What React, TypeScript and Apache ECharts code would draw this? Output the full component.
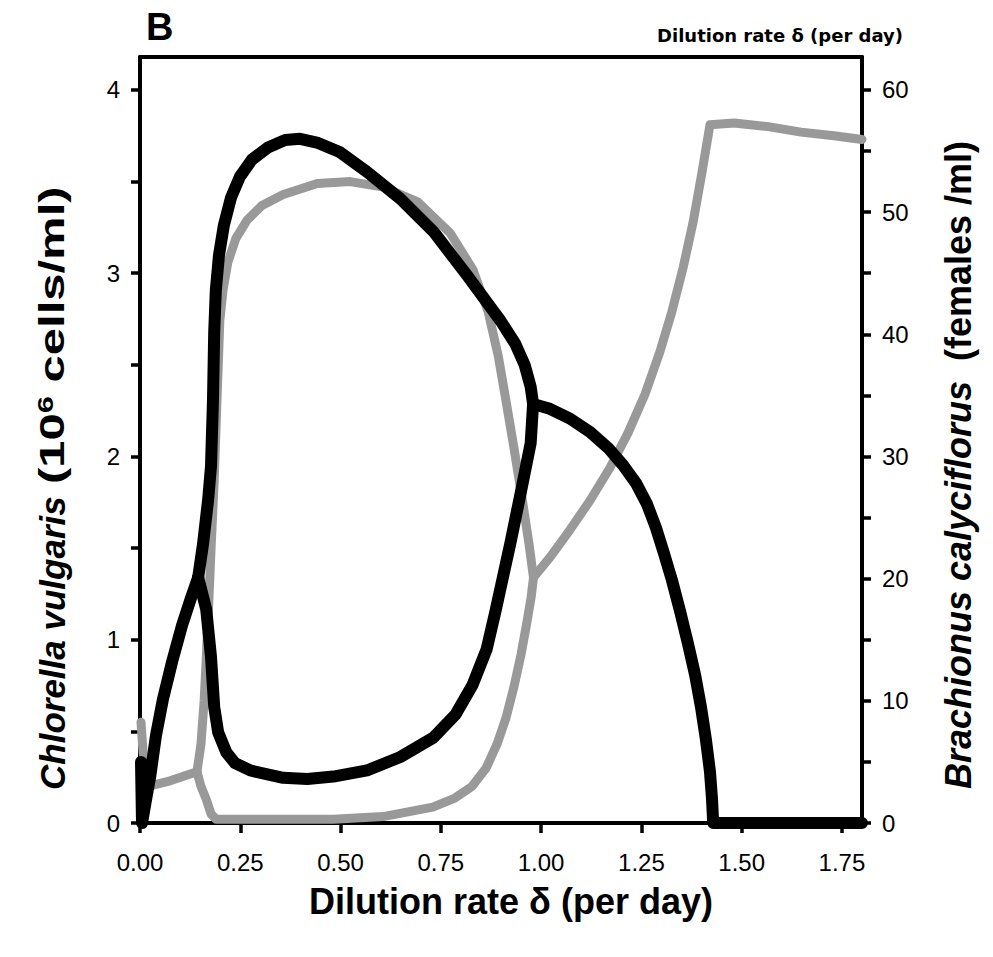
import React, { useEffect, useRef } from "react";
import * as echarts from "echarts";

// ---- tick values ----
const xTicks = [0, 0.25, 0.5, 0.75, 1.0, 1.25, 1.5, 1.75];
const leftTicks = [0, 0.5, 1, 1.5, 2, 2.5, 3, 3.5, 4];
const leftLabels = [0, 1, 2, 3, 4];
const rightTicks = [0, 5, 10, 15, 20, 25, 30, 35, 40, 45, 50, 55, 60];
const rightLabels = [0, 10, 20, 30, 40, 50, 60];

// ---- Chlorella vulgaris (10^6 cells/ml), grey, left axis ----
const chlorellaLow: [number, number][] = [
  [0.0025, 0.55], [0.0075, 0.39], [0.02, 0.2], [0.075, 0.23], [0.142, 0.28],
];
const chlorellaMax: [number, number][] = [
  [0.142, 0.28], [0.152, 0.43], [0.16, 0.67], [0.165, 0.89], [0.17, 1.13], [0.177, 1.49],
  [0.185, 1.87], [0.192, 2.31], [0.199, 2.74], [0.207, 2.91], [0.219, 3.06], [0.239, 3.19],
  [0.267, 3.29], [0.304, 3.37], [0.357, 3.43], [0.442, 3.49], [0.524, 3.5], [0.607, 3.47],
  [0.692, 3.39], [0.773, 3.22], [0.83, 3.02], [0.868, 2.79], [0.893, 2.55], [0.912, 2.31],
  [0.932, 2.05], [0.952, 1.78], [0.97, 1.52], [0.981, 1.34],
];
const chlorellaMin: [number, number][] = [
  [0.142, 0.28], [0.152, 0.2], [0.165, 0.13], [0.177, 0.05], [0.19, 0.02], [0.3, 0.02],
  [0.482, 0.02], [0.606, 0.035], [0.73, 0.087], [0.785, 0.136], [0.828, 0.2], [0.863, 0.3],
  [0.89, 0.43], [0.912, 0.57], [0.932, 0.74], [0.95, 0.92], [0.965, 1.1], [0.975, 1.23],
  [0.981, 1.34],
];
const chlorellaEquilibrium: [number, number][] = [
  [0.981, 1.34], [1.022, 1.45], [1.072, 1.6], [1.122, 1.76], [1.172, 1.94], [1.217, 2.13],
  [1.259, 2.34], [1.296, 2.57], [1.326, 2.79], [1.354, 3.03], [1.379, 3.28], [1.401, 3.55],
  [1.421, 3.81], [1.481, 3.82], [1.566, 3.8], [1.648, 3.77], [1.73, 3.75], [1.8, 3.73],
];

// ---- Brachionus calyciflorus (females/ml), black, right axis ----
const brachionusRise: [number, number][] = [
  [0.0025, 5.0], [0.005, 0], [0.015, 1.9], [0.025, 3.7], [0.04, 7.2], [0.057, 10.1],
  [0.08, 13.2], [0.105, 16.2], [0.127, 18.4], [0.145, 20.1],
];
const brachionusMax: [number, number][] = [
  [0.145, 20.1], [0.157, 22.8], [0.17, 26.5], [0.177, 29.2], [0.182, 34.7], [0.185, 40.2],
  [0.189, 43.6], [0.197, 46.5], [0.209, 48.9], [0.227, 51.2], [0.249, 52.9], [0.279, 54.3],
  [0.319, 55.3], [0.362, 55.9], [0.399, 56.0], [0.441, 55.7], [0.499, 54.9], [0.566, 53.3],
  [0.649, 51.1], [0.732, 48.4], [0.816, 44.8], [0.899, 41.1], [0.936, 39.2], [0.959, 37.5],
  [0.974, 35.7], [0.98, 34.3],
];
const brachionusMin: [number, number][] = [
  [0.98, 34.3], [0.974, 31.1], [0.949, 27.0], [0.924, 23.0], [0.906, 20.3], [0.886, 17.3],
  [0.864, 14.2], [0.829, 11.3], [0.787, 8.9], [0.732, 7.0], [0.649, 5.4], [0.566, 4.3],
  [0.482, 3.8], [0.417, 3.6], [0.357, 3.7], [0.275, 4.3], [0.237, 4.9], [0.215, 5.8],
  [0.195, 7.4], [0.185, 9.5], [0.177, 13.6], [0.165, 17.5], [0.145, 20.1],
];
const brachionusEquilibrium: [number, number][] = [
  [0.98, 34.3], [1.022, 33.9], [1.072, 33.1], [1.122, 32.0], [1.167, 30.7], [1.204, 29.3],
  [1.237, 27.8], [1.264, 26.1], [1.286, 24.2], [1.306, 22.1], [1.326, 19.9], [1.346, 17.4],
  [1.366, 14.7], [1.384, 12.1], [1.399, 9.4], [1.411, 6.8], [1.421, 4.2], [1.426, 2.0],
  [1.429, 0], [1.8, 0],
];

const X_MAX = 1.8;
const LEFT_MAX = 4.18;
const RIGHT_MAX = 62.7;

const FONT = "'Liberation Sans', Arial, Helvetica, sans-serif";
const GREY = "#999999";
const BLACK = "#000000";

function lineSeries(name: string, data: [number, number][], yAxisIndex: number, color: string, width: number, z: number) {
  return {
    type: "line",
    name,
    data,
    xAxisIndex: 0,
    yAxisIndex,
    showSymbol: false,
    symbol: "none",
    clip: false,
    silent: true,
    z,
    lineStyle: { color, width, cap: "round", join: "round" },
  };
}

const axisLineStyle = { color: BLACK, width: 4 };
const tickLineStyle = { color: BLACK, width: 3.5 };
const labelStyle = { fontFamily: FONT, fontSize: 24, color: BLACK };

export default function App() {
  const ref = useRef<HTMLDivElement>(null);

  useEffect(() => {
    if (!ref.current) return;
    const chart = echarts.init(ref.current, null, { renderer: "svg" });
    const option: any = {
      animation: false,
      backgroundColor: "#ffffff",
      grid: { left: 140, right: 131, top: 57, bottom: 134, containLabel: false, outerBoundsMode: "none" },
      xAxis: [
        {
          type: "value",
          position: "bottom",
          min: 0,
          max: X_MAX,
          axisLine: { show: true, onZero: false, lineStyle: axisLineStyle },
          axisTick: { show: true, customValues: xTicks, length: 10, lineStyle: tickLineStyle },
          axisLabel: { ...labelStyle, customValues: xTicks, margin: 27, formatter: (v: number) => v.toFixed(2) },
          splitLine: { show: false },
        },
        {
          type: "value",
          position: "top",
          min: 0,
          max: X_MAX,
          axisLine: { show: true, onZero: false, lineStyle: axisLineStyle },
          axisTick: { show: false },
          axisLabel: { show: false },
          splitLine: { show: false },
        },
      ],
      yAxis: [
        {
          type: "value",
          position: "left",
          min: 0,
          max: LEFT_MAX,
          axisLine: { show: true, onZero: false, lineStyle: axisLineStyle },
          axisTick: { show: true, customValues: leftTicks, length: 9, lineStyle: tickLineStyle },
          axisLabel: { ...labelStyle, customValues: leftLabels, margin: 20 },
          splitLine: { show: false },
        },
        {
          type: "value",
          position: "right",
          min: 0,
          max: RIGHT_MAX,
          axisLine: { show: true, onZero: false, lineStyle: axisLineStyle },
          axisTick: { show: true, customValues: rightTicks, length: 9, lineStyle: tickLineStyle },
          axisLabel: { ...labelStyle, customValues: rightLabels, margin: 20 },
          splitLine: { show: false },
        },
      ],
      series: [
        lineSeries("Chlorella low", chlorellaLow, 0, GREY, 9, 2),
        lineSeries("Chlorella max", chlorellaMax, 0, GREY, 9, 2),
        lineSeries("Chlorella min", chlorellaMin, 0, GREY, 9, 2),
        lineSeries("Chlorella equilibrium", chlorellaEquilibrium, 0, GREY, 9, 2),
        lineSeries("Brachionus rise", brachionusRise, 1, BLACK, 12, 3),
        lineSeries("Brachionus max", brachionusMax, 1, BLACK, 12, 3),
        lineSeries("Brachionus min", brachionusMin, 1, BLACK, 12, 3),
        lineSeries("Brachionus equilibrium", brachionusEquilibrium, 1, BLACK, 12, 3),
      ],
      graphic: [
        {
          type: "text",
          x: 146,
          y: 27,
          style: { text: "B", fontFamily: FONT, fontSize: 38, fontWeight: "bold", fill: BLACK, align: "left", verticalAlign: "middle" },
        },
        {
          type: "text",
          x: 780,
          y: 35,
          style: {
            text: "Dilution rate δ (per day)",
            fontFamily: "'DejaVu Sans', sans-serif",
            fontSize: 18,
            fontWeight: "bold",
            fill: BLACK,
            align: "center",
            verticalAlign: "middle",
          },
        },
        {
          type: "text",
          x: 511,
          y: 901,
          style: {
            text: "Dilution rate δ (per day)",
            fontFamily: FONT,
            fontSize: 36,
            fontWeight: "bold",
            fill: BLACK,
            align: "center",
            verticalAlign: "middle",
          },
        },
        {
          type: "text",
          x: 52,
          y: 790,
          rotation: Math.PI / 2,
          style: {
            text: "Chlorella vulgaris",
            fontFamily: FONT,
            fontSize: 35,
            fontWeight: "bold",
            fontStyle: "italic",
            fill: BLACK,
            align: "left",
            verticalAlign: "middle",
          },
        },
        {
          type: "text",
          x: 52,
          y: 484,
          rotation: Math.PI / 2,
          scaleX: 1.4,
          style: {
            text: "{n|(10}{s|6}{n| cells/ml)}",
            fontFamily: FONT,
            fontSize: 35,
            fontWeight: "bold",
            fill: BLACK,
            align: "left",
            verticalAlign: "middle",
            rich: {
              n: { fontFamily: FONT, fontSize: 35, fontWeight: "bold", fill: BLACK, verticalAlign: "bottom" },
              s: { fontFamily: FONT, fontSize: 22, fontWeight: "bold", fill: BLACK, verticalAlign: "top" },
            },
          },
        },
        {
          type: "text",
          x: 958,
          y: 465,
          rotation: Math.PI / 2,
          style: {
            text: "{i|Brachionus calyciflorus} {n| (females /ml)}",
            fontFamily: FONT,
            fontSize: 36,
            fontWeight: "bold",
            fill: BLACK,
            align: "center",
            verticalAlign: "middle",
            rich: {
              i: { fontFamily: FONT, fontSize: 36, fontWeight: "bold", fontStyle: "italic", fill: BLACK },
              n: { fontFamily: FONT, fontSize: 36, fontWeight: "bold", fill: BLACK },
            },
          },
        },
      ],
    };
    chart.setOption(option);
    return () => chart.dispose();
  }, []);

  return (
    <div
      ref={ref}
      style={{ position: "absolute", left: 0, top: 0, width: 993, height: 957, background: "#ffffff" }}
    />
  );
}
